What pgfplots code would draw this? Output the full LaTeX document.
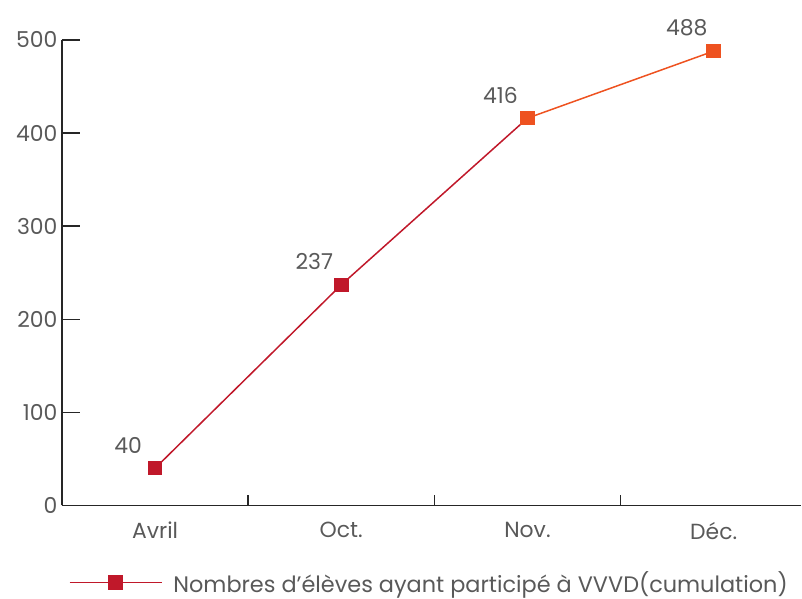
\documentclass[border=0pt]{standalone}
\usepackage{pgfplots}
\pgfplotsset{compat=1.18}
\usepackage{fontspec}
\setmainfont{Poppins}
\definecolor{cred}{HTML}{C0182A}
\definecolor{corange}{HTML}{EE5220}
\definecolor{ctext}{HTML}{595959}
\begin{document}
\begin{tikzpicture}
\begin{axis}[
  scale only axis, width=740bp, height=466bp,
  xmin=-0.5, xmax=3.47, ymin=0, ymax=500,
  clip=false,
  axis lines=left,
  axis line style={-, line width=1.6bp, black!85},
  tick align=inside,
  major tick length=14bp,
  every tick/.style={black!85, line width=1.5bp},
  xtick style={/pgfplots/major tick length=11bp},
  ytick style={/pgfplots/major tick length=18bp},
  xtick={0.5,1.5,2.5}, xticklabels={},
  extra x ticks={0,1,2,3},
  extra x tick labels={Avril,Oct.,Nov.,D\'ec.},
  extra x tick style={xtick style={draw=none, /pgfplots/major tick length=0pt}, xticklabel style={yshift=-13bp}},
  ytick={0,100,200,300,400,500},
  /pgf/number format/assume math mode=true,
  tick label style={font=\fontsize{22}{26}\selectfont, text=ctext},
  yticklabel style={xshift=-1bp},
  legend style={at={(0.497,-0.165)}, anchor=center, draw=none, fill=none,
    font=\fontsize{22.5}{26}\selectfont, text=ctext,
    /tikz/every odd column/.append style={column sep=9bp}},
  legend image code/.code={\draw[mark repeat=2,mark phase=2,#1] plot coordinates {(0bp,0bp) (46bp,0bp) (92bp,0bp)};},
]
\addplot[cred, line width=1.5bp, mark=square*, mark size=6.5bp, mark options={solid, fill=cred}]
  coordinates {(0,40) (1,237) (2,416)};
\addlegendentry{Nombres d'élèves ayant participé à VVVD(cumulation)}
\addplot[corange, line width=1.5bp, mark=square*, mark size=6.5bp, mark options={solid, fill=corange}, forget plot]
  coordinates {(2,416) (3,488)};
\addplot[draw=none, forget plot, nodes near coords,
  every node near coord/.append style={anchor=center, xshift=-27bp, yshift=23bp, font=\fontsize{22}{26}\selectfont, text=ctext}]
  coordinates {(0,40) (1,237) (2,416) (3,488)};
\path (rel axis cs:0,0) ++(-62bp,-93bp) rectangle ++(802bp,599bp);
\end{axis}
\end{tikzpicture}
\end{document}
